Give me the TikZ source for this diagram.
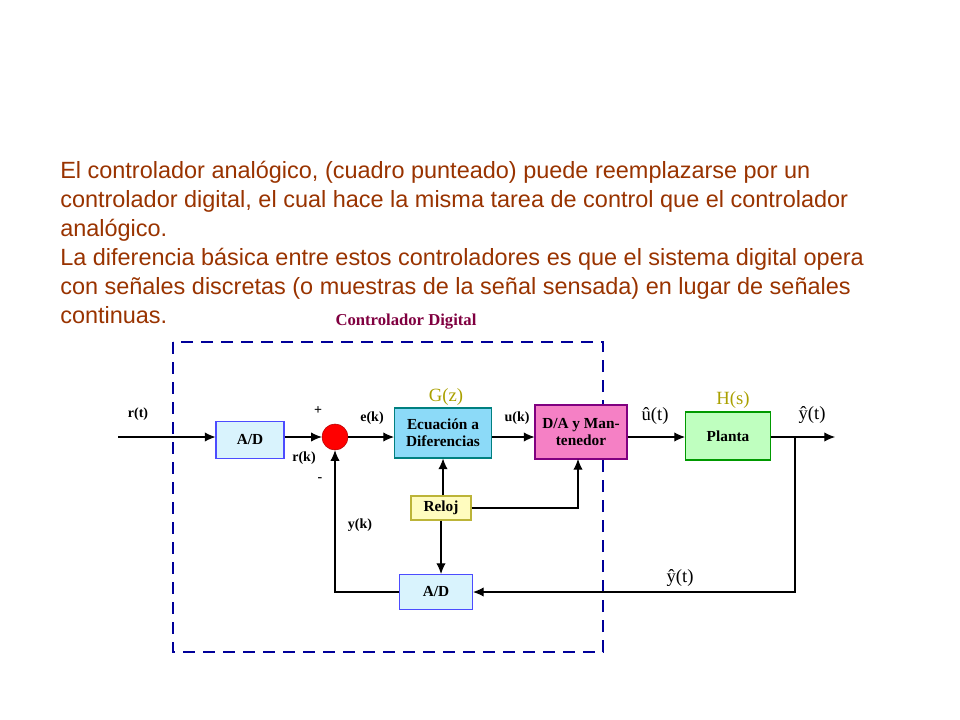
\documentclass[tikz,border=0pt]{standalone}
\usepackage{fontspec}
\setmainfont{Liberation Sans}
\newfontfamily\blockfont{Liberation Serif}
\usetikzlibrary{arrows.meta}
\definecolor{txtbrown}{RGB}{153,51,0}
\definecolor{ctrlpurple}{RGB}{128,0,64}
\definecolor{gzolive}{RGB}{170,160,0}
\begin{document}
\begin{tikzpicture}[x=0.75pt,y=-0.75pt,>={Latex[length=8pt,width=7pt]}]
\tikzstyle{blk}=[draw,thick,minimum height=37pt*0.75,inner sep=1pt,font=\blockfont\bfseries\fontsize{11.5}{12.5}\selectfont,align=center]
\tikzstyle{lbl}=[font=\blockfont\bfseries\fontsize{10.5}{12}\selectfont,inner sep=1pt]
\tikzstyle{sig}=[thick,->]
\useasboundingbox (0,0) rectangle (960,720);
% texto
\node[anchor=west,text=txtbrown,font=\fontsize{17.6}{21.75}\selectfont,align=left,inner sep=0pt] (txt) at (60,242)
{El controlador anal\'ogico, (cuadro punteado) puede reemplazarse por un\\
controlador digital, el cual hace la misma tarea de control que el controlador\\
anal\'ogico.\\
La diferencia b\'asica entre estos controladores es que el sistema digital opera\\
con se\~nales discretas (o muestras de la se\~nal sensada) en lugar de se\~nales\\
continuas.};
\node[text=ctrlpurple,lbl,font=\blockfont\bfseries\fontsize{12.5}{14}\selectfont] (ctitle) at (406,322) {Controlador Digital};
\draw[blue!60!black,thick,dash pattern=on 9pt off 6pt] (173,342) rectangle (603,652);
% bloques
\node[blk,draw=blue!70,fill=cyan!15,minimum width=68*0.75pt] (ad1) at (250,440) {A/D};
\node[circle,fill=red,draw=red!70!black,minimum size=26*0.75pt,inner sep=0pt] (sum) at (335,437) {};
\node[blk,draw=teal,fill=cyan!45,minimum width=97*0.75pt,minimum height=50*0.75pt] (ecu) at (443,433) {Ecuaci\'on a\\Diferencias};
\node[blk,draw=violet,fill=magenta!50,minimum width=92*0.75pt,minimum height=54*0.75pt] (da) at (581,432) {D/A y Man-\\tenedor};
\node[blk,draw=green!60!black,fill=green!25,minimum width=85*0.75pt,minimum height=48*0.75pt] (planta) at (728,436) {Planta};
\node[blk,draw=yellow!70!black,fill=yellow!25,minimum width=60*0.75pt,minimum height=24*0.75pt] (reloj) at (441,508) {Reloj};
\node[blk,draw=blue!70,fill=cyan!15,minimum width=73*0.75pt,minimum height=35*0.75pt] (ad2) at (436,592) {A/D};
% coordenadas
\coordinate (in) at (118,437);
\coordinate (out) at (835,437);
\coordinate (br) at (795,437);
% conexiones
\draw[sig] (in) -- (ad1.west |- in);
\draw[sig] (ad1.east |- sum) -- (sum.west);
\draw[sig] (sum.east) -- (ecu.west |- sum);
\draw[sig] (ecu.east |- sum) -- (da.west |- sum);
\draw[sig] (da.east |- sum) -- (planta.west |- sum);
\draw[sig] (planta.east |- sum) -- (out);
\draw[sig] (br) |- (ad2.east);
\draw[sig] (ad2.west) -| (sum.south);
\draw[sig] (reloj.north -| ecu.south) -- (ecu.south);
\draw[sig] (reloj.east) -| (578,459);
\draw[sig] (reloj.south) -- (ad2.north -| reloj.south);
% etiquetas
\node[lbl] (lrt) at (138,414) {r(t)};
\node[lbl] (lplus) at (318,411) {+};
\node[lbl] (lrk) at (304,458) {r(k)};
\node[lbl] (lminus) at (320,480) {-};
\node[lbl] (lek) at (372,418) {e(k)};
\node[lbl,text=gzolive,font=\blockfont\fontsize{14}{16}\selectfont] (lgz) at (446,397) {G(z)};
\node[lbl] (luk) at (517,418) {u(k)};
\node[lbl,font=\blockfont\fontsize{14}{16}\selectfont] (lut) at (655,416) {û(t)};
\node[lbl,text=gzolive,font=\blockfont\fontsize{14}{16}\selectfont] (lhs) at (733,400) {H(s)};
\node[lbl,font=\blockfont\fontsize{14}{16}\selectfont] (lyt) at (812,415) {ŷ(t)};
\node[lbl] (lyk) at (360,525) {y(k)};
\node[lbl,font=\blockfont\fontsize{14}{16}\selectfont] (lyt2) at (680,578) {ŷ(t)};
\end{tikzpicture}
\end{document}
